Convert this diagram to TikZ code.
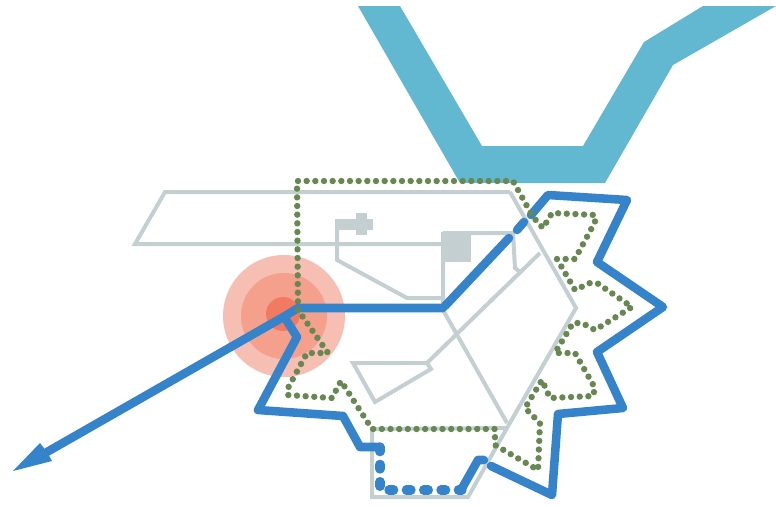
\documentclass[tikz,border=0pt]{standalone}
\definecolor{riverc}{RGB}{98,184,209}
\definecolor{grayc}{RGB}{196,207,209}
\definecolor{bluec}{RGB}{52,131,203}
\definecolor{greenc}{RGB}{104,136,82}
\definecolor{haloa}{RGB}{247,190,180}
\definecolor{halob}{RGB}{245,160,140}
\definecolor{haloc}{RGB}{243,122,98}
\tikzset{
 wall/.style={draw=grayc,line width=3pt,line join=miter},
 route/.style={draw=bluec,line width=6.4pt,line join=round,line cap=round},
 dotline/.style={draw=greenc,line width=4.8pt,line cap=round,dash pattern=on 0pt off 6.5pt},
}
\begin{document}
\begin{tikzpicture}[x=0.75pt,y=-0.75pt]
\useasboundingbox (0,0) rectangle (776,507);
\fill[riverc] (358,6) -- (400,6) -- (482,146) -- (583,146) -- (644,42) -- (703,6) -- (776,6) -- (673,65) -- (605,183) -- (460,183) -- cycle;
\fill[haloa] (284,316) circle (61);
\fill[halob] (284,316) circle (43);
\fill[haloc] (283,314) circle (17);
\draw[wall] (510,192) -- (165,192) -- (135,244) -- (443,244);
\draw[wall] (443,233) -- (513,233) -- (515,268) -- (520,272);
\draw[wall] (510,192) -- (576,308) -- (507,428) -- (372,429) -- (372,497) -- (468,497) -- (507,428);
\draw[wall] (443,233) -- (443,310) -- (507,423);
\draw[wall] (441,298) -- (407,298) -- (337,260) -- (337,224);
\draw[wall] (540,253) -- (427,363) -- (353,363) -- (375,402) -- (431,369) -- (427,363);
\fill[grayc] (441,232) rectangle (471,262);
\fill[grayc] (335,219) rectangle (373,230);
\fill[grayc] (356,213) rectangle (367,235);
\draw[route] (443,308) -- (298,308) -- (285,316) -- (47,452);
\fill[bluec] (13,471) -- (40,443) -- (47,452) -- (52,461) -- cycle;
\draw[route] (285,318) -- (297,337) -- (258,410) -- (343,416) -- (360,447) -- (380,447);
\draw[route,line width=7pt,dash pattern=on 3.5pt off 9.5pt] (380,447) -- (380,490) -- (462,490);
\draw[route] (461,490) -- (478,460) -- (484,460);
\draw[route] (491,466) -- (552,495) -- (558,414) -- (623,408) -- (597,352) -- (663,307) -- (597,262) -- (627,200) -- (548,195) -- (531,215);
\draw[route] (524,222) -- (517,230);
\draw[route] (509,238) -- (445,306);
\draw[dotline] (298,310) -- (297,181) -- (513,181) -- (533,217) -- (543,228) -- (552,213) -- (595,215) -- (595,222) -- (575,259) -- (557,259) -- (575,290) -- (590,283) -- (597,283) -- (632,307) -- (595,330) -- (582,323) -- (573,323) -- (555,353) -- (575,353) -- (595,388) -- (593,396) -- (550,398) -- (542,380) -- (525,408) -- (540,423) -- (538,470) -- (495,445) -- (495,429) -- (372,429) -- (341,381) -- (332,398) -- (288,395) -- (288,388) -- (307,353) -- (328,353) -- (298,310);
\end{tikzpicture}
\end{document}
